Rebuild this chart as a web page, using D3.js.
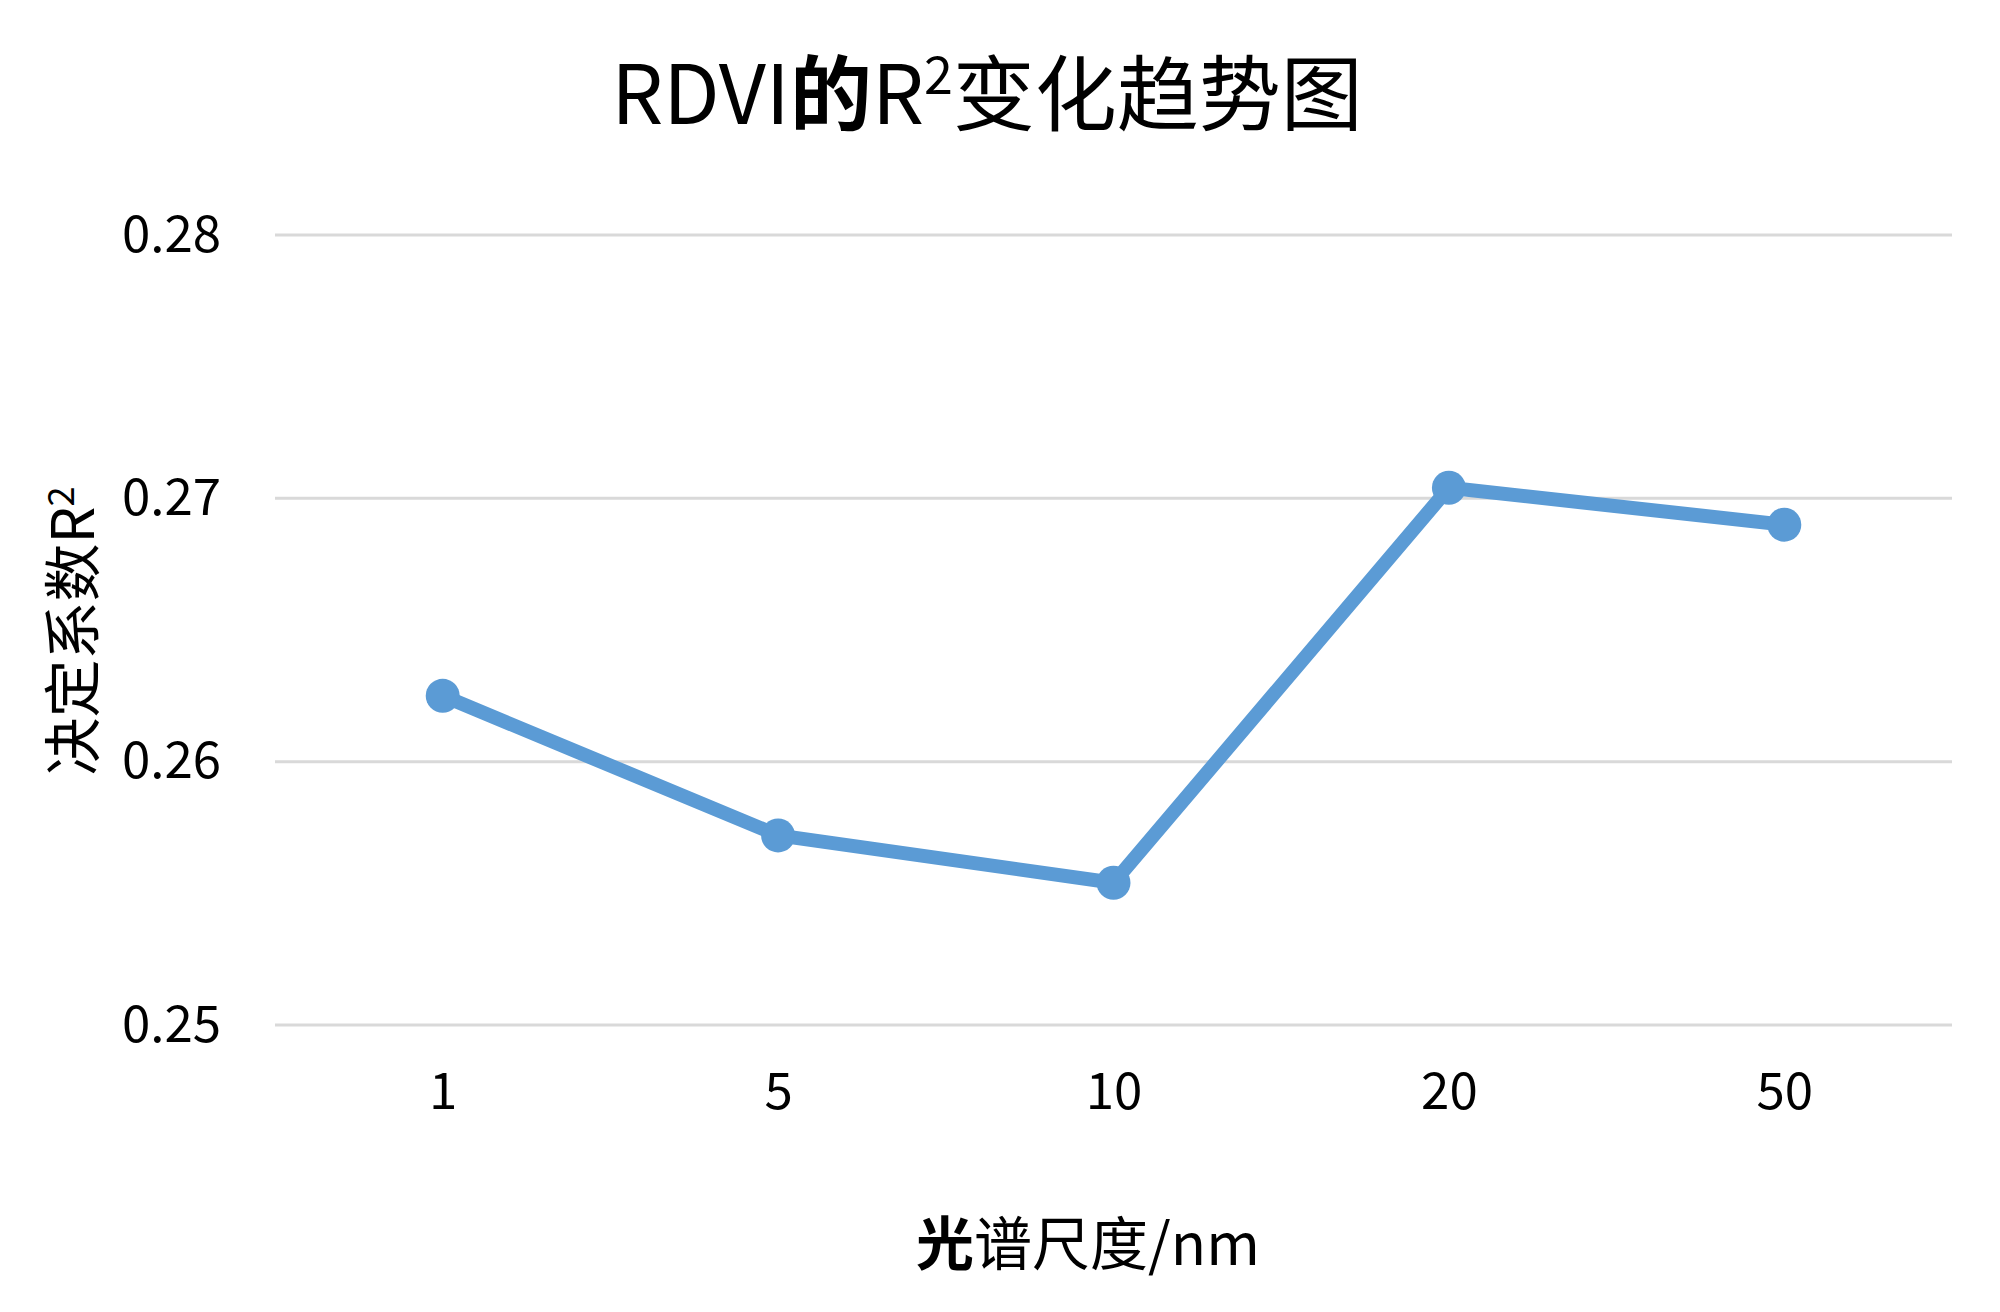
<!DOCTYPE html>
<html>
<head>
<meta charset="utf-8">
<script src="https://cdn.jsdelivr.net/npm/d3@7"></script>
<style>
    body { margin: 0; background: #fff; }
    svg { display: block; font-family: "Noto Sans CJK SC", "Noto Sans", sans-serif; }
    .grid line { stroke: #d9d9d9; stroke-width: 3; }
    .axis text { fill: #000; }
</style>
</head>
<body>
<div id="root"></div>
<script>
const scales = ['1', '5', '10', '20', '50'];
const r2 = [0.2625, 0.2572, 0.2554, 0.2704, 0.2690];
const yTicks = [0.25, 0.26, 0.27, 0.28];

const WIDTH = 2000;
const HEIGHT = 1312;
const margin = { left: 275, right: 48, top: 235, bottom: 287 };
const color = '#5b9bd5';

const svg = d3.select('#root').append('svg')
    .attr('width', WIDTH)
    .attr('height', HEIGHT);

const x = d3.scalePoint()
    .domain(scales)
    .range([margin.left, WIDTH - margin.right])
    .padding(0.5);

const y = d3.scaleLinear()
    .domain([0.25, 0.28])
    .range([HEIGHT - margin.bottom, margin.top]);

// gridlines
svg.append('g')
    .attr('class', 'grid')
    .selectAll('line')
    .data(yTicks)
    .enter().append('line')
        .attr('x1', margin.left)
        .attr('x2', WIDTH - margin.right)
        .attr('y1', d => y(d))
        .attr('y2', d => y(d));

// y axis labels
const yAxis = d3.axisLeft(y).tickValues(yTicks).tickFormat(d3.format('.2f')).tickSize(0).tickPadding(54);
svg.append('g')
    .attr('class', 'axis')
    .attr('transform', `translate(${margin.left}, 0)`)
    .call(yAxis)
    .attr('font-family', null)
    .attr('font-size', null)
    .call(g => g.select('.domain').remove())
    .selectAll('text')
        .style('font-size', '51px');

// x axis labels
const xAxis = d3.axisBottom(x).tickSize(0).tickPadding(48);
svg.append('g')
    .attr('class', 'axis')
    .attr('transform', `translate(0, ${HEIGHT - margin.bottom})`)
    .call(xAxis)
    .attr('font-family', null)
    .attr('font-size', null)
    .call(g => g.select('.domain').remove())
    .selectAll('text')
        .style('font-size', '51px');

// line + markers
const line = d3.line()
    .x((d, i) => x(scales[i]))
    .y(d => y(d));

svg.append('path')
    .datum(r2)
    .attr('fill', 'none')
    .attr('stroke', color)
    .attr('stroke-width', 14)
    .attr('stroke-linejoin', 'round')
    .attr('d', line);

svg.selectAll('.dot')
    .data(r2)
    .enter().append('circle')
        .attr('class', 'dot')
        .attr('cx', (d, i) => x(scales[i]))
        .attr('cy', d => y(d))
        .attr('r', 17)
        .attr('fill', color);

// title
const title = svg.append('text')
    .attr('x', 987)
    .attr('y', 124)
    .attr('text-anchor', 'middle')
    .style('font-size', '82px');
title.append('tspan').text('RDVI');
title.append('tspan').style('font-weight', 'bold').text('的');
title.append('tspan').text('R');
title.append('tspan').attr('dy', -30).style('font-size', '52px').text('2');
title.append('tspan').attr('dy', 30).text('变化趋势图');

// x axis title
const xt = svg.append('text')
    .attr('x', 1088)
    .attr('y', 1265)
    .attr('text-anchor', 'middle')
    .style('font-size', '58px');
xt.append('tspan').style('font-weight', 'bold').text('光');
xt.append('tspan').text('谱尺度/nm');

// y axis title
const yt = svg.append('text')
    .attr('transform', 'translate(94, 631) rotate(-90)')
    .attr('text-anchor', 'middle')
    .style('font-size', '58px');
yt.append('tspan').text('决定系数R');
yt.append('tspan').attr('dy', -20).style('font-size', '36px').text('2');
</script>
</body>
</html>
